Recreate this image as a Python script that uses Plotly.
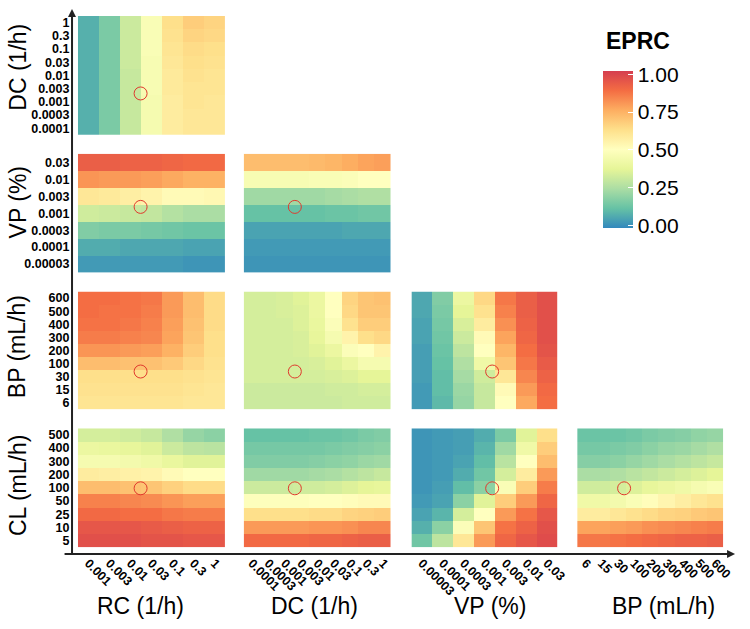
import numpy as np
import plotly.graph_objects as go

# axis categories
RC = ["0.001", "0.003", "0.01", "0.03", "0.1", "0.3", "1"]
DC = ["0.0001", "0.0003", "0.001", "0.003", "0.01", "0.03", "0.1", "0.3", "1"]
VP = ["0.00003", "0.0001", "0.0003", "0.001", "0.003", "0.01", "0.03"]
BP = ["6", "15", "30", "100", "200", "300", "400", "500", "600"]
CL = ["5", "10", "25", "50", "100", "200", "300", "400", "500"]

# reference parameter values (red circles)
RC_ref = 0.017
DC_ref = 0.002
VP_ref = 0.0015
BP_ref = 48
CL_ref = 97

# EPRC grids, rows from lowest to highest y category
z_dc_rc = [
    [0.07, 0.15, 0.30, 0.45, 0.58, 0.60, 0.60],
    [0.07, 0.15, 0.30, 0.45, 0.58, 0.60, 0.60],
    [0.07, 0.15, 0.30, 0.45, 0.58, 0.61, 0.60],
    [0.07, 0.15, 0.30, 0.46, 0.59, 0.61, 0.61],
    [0.07, 0.15, 0.30, 0.46, 0.59, 0.62, 0.61],
    [0.07, 0.15, 0.31, 0.46, 0.60, 0.63, 0.62],
    [0.07, 0.15, 0.31, 0.47, 0.61, 0.64, 0.63],
    [0.07, 0.15, 0.31, 0.47, 0.62, 0.66, 0.65],
    [0.07, 0.15, 0.31, 0.47, 0.63, 0.68, 0.66],
]
z_vp_rc = [
    [0.02, 0.02, 0.02, 0.02, 0.02, 0.01, 0.01],
    [0.06, 0.06, 0.05, 0.05, 0.05, 0.04, 0.04],
    [0.16, 0.15, 0.15, 0.14, 0.13, 0.12, 0.12],
    [0.32, 0.31, 0.30, 0.29, 0.26, 0.24, 0.24],
    [0.60, 0.59, 0.57, 0.55, 0.52, 0.52, 0.53],
    [0.81, 0.80, 0.80, 0.79, 0.77, 0.75, 0.75],
    [0.93, 0.93, 0.92, 0.92, 0.91, 0.90, 0.90],
]
z_vp_dc = [
    [0.01, 0.01, 0.01, 0.01, 0.01, 0.01, 0.01, 0.01, 0.01],
    [0.02, 0.02, 0.02, 0.02, 0.02, 0.02, 0.02, 0.02, 0.02],
    [0.04, 0.04, 0.04, 0.04, 0.04, 0.04, 0.05, 0.05, 0.05],
    [0.11, 0.11, 0.11, 0.11, 0.11, 0.12, 0.12, 0.13, 0.13],
    [0.22, 0.22, 0.22, 0.22, 0.22, 0.23, 0.24, 0.25, 0.25],
    [0.46, 0.46, 0.46, 0.46, 0.47, 0.47, 0.48, 0.50, 0.50],
    [0.72, 0.72, 0.72, 0.72, 0.73, 0.74, 0.76, 0.78, 0.79],
]
z_bp_rc = [
    [0.61, 0.61, 0.61, 0.61, 0.61, 0.60, 0.60],
    [0.62, 0.62, 0.62, 0.62, 0.62, 0.61, 0.60],
    [0.63, 0.63, 0.63, 0.63, 0.63, 0.62, 0.61],
    [0.72, 0.72, 0.71, 0.71, 0.69, 0.65, 0.62],
    [0.81, 0.81, 0.80, 0.79, 0.75, 0.68, 0.63],
    [0.86, 0.86, 0.85, 0.84, 0.78, 0.70, 0.63],
    [0.88, 0.88, 0.87, 0.85, 0.79, 0.71, 0.64],
    [0.89, 0.88, 0.88, 0.86, 0.80, 0.72, 0.64],
    [0.89, 0.89, 0.88, 0.87, 0.80, 0.72, 0.64],
]
z_bp_dc = [
    [0.31, 0.31, 0.31, 0.31, 0.31, 0.31, 0.32, 0.32, 0.32],
    [0.31, 0.31, 0.31, 0.31, 0.31, 0.32, 0.32, 0.33, 0.33],
    [0.33, 0.33, 0.33, 0.33, 0.33, 0.34, 0.35, 0.37, 0.37],
    [0.33, 0.33, 0.33, 0.33, 0.34, 0.36, 0.40, 0.45, 0.45],
    [0.33, 0.33, 0.33, 0.34, 0.36, 0.40, 0.48, 0.50, 0.55],
    [0.33, 0.33, 0.33, 0.34, 0.38, 0.45, 0.55, 0.63, 0.65],
    [0.33, 0.33, 0.33, 0.35, 0.39, 0.48, 0.62, 0.68, 0.68],
    [0.33, 0.33, 0.34, 0.35, 0.40, 0.50, 0.65, 0.70, 0.70],
    [0.33, 0.33, 0.34, 0.36, 0.40, 0.50, 0.66, 0.70, 0.71],
]
z_bp_vp = [
    [0.02, 0.09, 0.20, 0.30, 0.50, 0.77, 0.89],
    [0.02, 0.10, 0.21, 0.30, 0.52, 0.80, 0.90],
    [0.03, 0.10, 0.23, 0.32, 0.60, 0.84, 0.92],
    [0.03, 0.11, 0.25, 0.42, 0.70, 0.87, 0.94],
    [0.03, 0.12, 0.28, 0.50, 0.74, 0.89, 0.96],
    [0.04, 0.13, 0.31, 0.52, 0.78, 0.91, 0.97],
    [0.04, 0.14, 0.34, 0.58, 0.82, 0.92, 0.97],
    [0.05, 0.15, 0.37, 0.62, 0.85, 0.93, 0.97],
    [0.05, 0.16, 0.40, 0.65, 0.87, 0.93, 0.97],
]
z_cl_rc = [
    [0.97, 0.97, 0.97, 0.96, 0.96, 0.95, 0.95],
    [0.95, 0.95, 0.95, 0.94, 0.93, 0.92, 0.92],
    [0.90, 0.90, 0.89, 0.89, 0.87, 0.86, 0.86],
    [0.85, 0.85, 0.84, 0.83, 0.81, 0.79, 0.79],
    [0.72, 0.72, 0.71, 0.70, 0.67, 0.64, 0.64],
    [0.58, 0.57, 0.56, 0.55, 0.52, 0.50, 0.50],
    [0.45, 0.45, 0.44, 0.42, 0.39, 0.36, 0.36],
    [0.40, 0.39, 0.38, 0.36, 0.31, 0.28, 0.27],
    [0.33, 0.33, 0.32, 0.30, 0.25, 0.20, 0.18],
]
z_cl_dc = [
    [0.90, 0.90, 0.90, 0.90, 0.91, 0.91, 0.92, 0.93, 0.93],
    [0.80, 0.80, 0.80, 0.80, 0.81, 0.81, 0.82, 0.84, 0.84],
    [0.63, 0.63, 0.63, 0.63, 0.64, 0.64, 0.66, 0.67, 0.68],
    [0.49, 0.49, 0.49, 0.49, 0.50, 0.50, 0.51, 0.52, 0.52],
    [0.31, 0.31, 0.31, 0.32, 0.32, 0.33, 0.35, 0.37, 0.38],
    [0.22, 0.22, 0.22, 0.22, 0.23, 0.24, 0.26, 0.28, 0.30],
    [0.16, 0.16, 0.16, 0.16, 0.17, 0.18, 0.19, 0.21, 0.22],
    [0.14, 0.14, 0.14, 0.14, 0.14, 0.15, 0.16, 0.17, 0.18],
    [0.11, 0.11, 0.11, 0.11, 0.12, 0.12, 0.13, 0.15, 0.16],
]
z_cl_vp = [
    [0.13, 0.28, 0.60, 0.80, 0.91, 0.95, 0.98],
    [0.07, 0.18, 0.48, 0.70, 0.88, 0.92, 0.97],
    [0.04, 0.08, 0.33, 0.50, 0.80, 0.88, 0.95],
    [0.02, 0.04, 0.18, 0.36, 0.68, 0.80, 0.91],
    [0.01, 0.03, 0.10, 0.18, 0.47, 0.68, 0.86],
    [0.01, 0.02, 0.06, 0.13, 0.33, 0.58, 0.80],
    [0.01, 0.02, 0.04, 0.10, 0.27, 0.50, 0.72],
    [0.01, 0.02, 0.03, 0.08, 0.22, 0.42, 0.68],
    [0.01, 0.02, 0.03, 0.06, 0.15, 0.36, 0.63],
]
z_cl_bp = [
    [0.87, 0.87, 0.88, 0.89, 0.90, 0.91, 0.92, 0.92, 0.93],
    [0.78, 0.78, 0.79, 0.80, 0.82, 0.83, 0.84, 0.85, 0.86],
    [0.58, 0.58, 0.60, 0.62, 0.64, 0.66, 0.67, 0.69, 0.70],
    [0.42, 0.42, 0.44, 0.47, 0.51, 0.54, 0.57, 0.60, 0.62],
    [0.32, 0.32, 0.33, 0.35, 0.38, 0.40, 0.42, 0.45, 0.47],
    [0.24, 0.24, 0.25, 0.27, 0.29, 0.31, 0.33, 0.35, 0.37],
    [0.17, 0.17, 0.18, 0.20, 0.22, 0.24, 0.26, 0.28, 0.30],
    [0.14, 0.14, 0.15, 0.16, 0.18, 0.20, 0.21, 0.23, 0.25],
    [0.12, 0.12, 0.12, 0.13, 0.15, 0.16, 0.17, 0.19, 0.20],
]

W, H = 750, 629


def px(x):
    return x / W


def py(y):
    return 1 - y / H


cats = {"RC": RC, "DC": DC, "VP": VP, "BP": BP, "CL": CL}
refs = {"RC": RC_ref, "DC": DC_ref, "VP": VP_ref, "BP": BP_ref, "CL": CL_ref}
grids = {
    ("DC", "RC"): z_dc_rc,
    ("VP", "RC"): z_vp_rc, ("VP", "DC"): z_vp_dc,
    ("BP", "RC"): z_bp_rc, ("BP", "DC"): z_bp_dc, ("BP", "VP"): z_bp_vp,
    ("CL", "RC"): z_cl_rc, ("CL", "DC"): z_cl_dc, ("CL", "VP"): z_cl_vp, ("CL", "BP"): z_cl_bp,
}
col_vars = ["RC", "DC", "VP", "BP"]
row_vars = ["DC", "VP", "BP", "CL"]
col_px = [(79, 228), (247, 396), (417, 565), (585, 733)]
row_px = [(16, 135), (154, 273), (292, 410), (429, 548)]

spectral = ["#3288bd", "#66c2a5", "#abdda4", "#e6f598", "#ffffbf",
            "#fee08b", "#fdae61", "#f46d43", "#d53e4f"]
colorscale = [[i / 8, c] for i, c in enumerate(spectral)]


def ref_pos(var):
    vals = np.log10([float(v) for v in cats[var]])
    return float(np.interp(np.log10(refs[var]), vals, np.arange(len(vals))))


fig = go.Figure()
tickfont = dict(family="Liberation Sans, Arial", size=12.5, color="black", weight="bold")
k = 0
for r, rv in enumerate(row_vars):
    for c in range(r + 1):
        cv = col_vars[c]
        k += 1
        sfx = "" if k == 1 else str(k)
        fig.add_trace(go.Heatmap(
            z=grids[(rv, cv)], x=list(range(len(cats[cv]))), y=list(range(len(cats[rv]))),
            coloraxis="coloraxis", xaxis="x" + sfx, yaxis="y" + sfx,
        ))
        fig.add_trace(go.Scatter(
            x=[ref_pos(cv)], y=[ref_pos(rv)], mode="markers", xaxis="x" + sfx, yaxis="y" + sfx,
            marker=dict(symbol="circle-open", size=13, color="#e03a2e", line=dict(width=1)),
            showlegend=False,
        ))
        nx, ny = len(cats[cv]), len(cats[rv])
        fig.layout["xaxis" + sfx] = dict(
            domain=[px(col_px[c][0]), px(col_px[c][1])], anchor="y" + sfx,
            range=[-0.5, nx - 0.5], tickvals=list(range(nx)), ticktext=cats[cv],
            showticklabels=(r == 3), tickangle=45, tickfont=tickfont,
            ticks="outside", ticklen=3, tickcolor="rgba(0,0,0,0)",
            showgrid=False, zeroline=False, showline=False,
        )
        fig.layout["yaxis" + sfx] = dict(
            domain=[py(row_px[r][1]), py(row_px[r][0])], anchor="x" + sfx,
            range=[-0.5, ny - 0.5], tickvals=list(range(ny)), ticktext=cats[rv],
            showticklabels=(c == 0), tickfont=tickfont,
            ticks="outside", ticklen=5, tickcolor="rgba(0,0,0,0)",
            showgrid=False, zeroline=False, showline=False,
        )

annotations = []
title_font = dict(family="Liberation Sans, Arial", size=23, color="black")
x_titles = {"RC (1/h)": 142, "DC (1/h)": 319, "VP (%)": 497, "BP (mL/h)": 672}
for txt, xc in x_titles.items():
    annotations.append(dict(text=txt, x=px(xc), y=py(607), xref="paper", yref="paper",
                            showarrow=False, font=title_font, xanchor="center", yanchor="middle"))
y_titles = {"DC (1/h)": 67, "VP (%)": 203, "BP (mL/h)": 347, "CL (mL/h)": 486}
for txt, yc in y_titles.items():
    annotations.append(dict(text=txt, x=px(18), y=py(yc), xref="paper", yref="paper",
                            showarrow=False, font=title_font, textangle=-90,
                            xanchor="center", yanchor="middle"))
# axis arrows
annotations.append(dict(x=px(73), y=py(9), xref="paper", yref="paper", text="",
                        showarrow=True, ax=0, ay=546, arrowhead=2, arrowsize=0.8,
                        arrowwidth=2, arrowcolor="#222"))
annotations.append(dict(x=px(745), y=py(555), xref="paper", yref="paper", text="",
                        showarrow=True, ax=-672, ay=0, arrowhead=2, arrowsize=0.8,
                        arrowwidth=2, arrowcolor="#222"))
annotations.append(dict(text="<b>EPRC</b>", x=px(612), y=py(41), xref="paper", yref="paper",
                        showarrow=False, xanchor="left", yanchor="middle",
                        font=dict(family="Liberation Sans, Arial", size=23, color="black")))

fig.update_layout(
    width=W, height=H, margin=dict(l=0, r=0, t=0, b=0),
    paper_bgcolor="white", plot_bgcolor="white", showlegend=False,
    annotations=annotations,
    coloraxis=dict(
        colorscale=colorscale, cmin=-0.02, cmax=1.02,
        colorbar=dict(
            x=px(611), xanchor="left", xpad=0, y=py(150), yanchor="middle", ypad=0,
            thickness=30, len=157, lenmode="pixels", outlinewidth=0,
            tickvals=[0, 0.25, 0.5, 0.75, 1.0], ticktext=["0.00", "0.25", "0.50", "0.75", "1.00"],
            ticks="inside", ticklen=5, tickcolor="white", tickwidth=1,
            tickfont=dict(family="Liberation Sans, Arial", size=21, color="black"),
        ),
    ),
)

# drop the default page margin so the figure sits at the window's top-left corner
fig.write_html("out.html", config={"displayModeBar": False},
               post_script="document.body.style.margin='0';document.body.style.overflow='hidden';")
